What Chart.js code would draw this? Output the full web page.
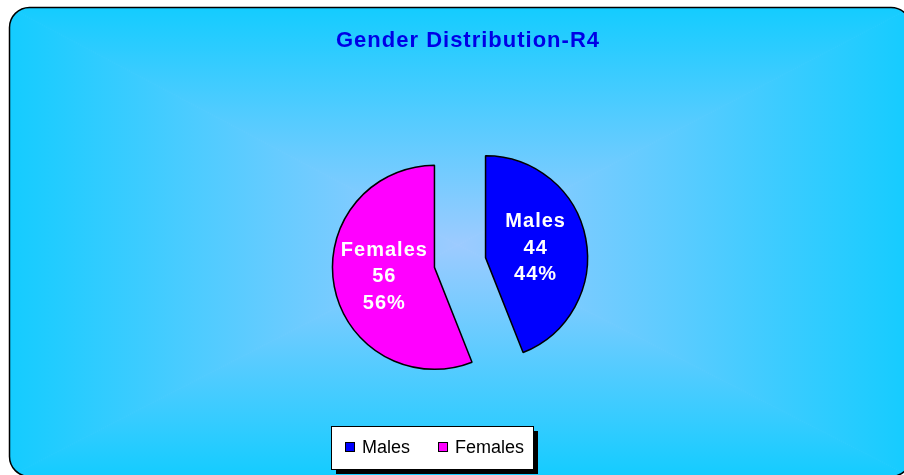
<!DOCTYPE html>
<html>
<head>
<meta charset="utf-8">
<script src="https://cdn.jsdelivr.net/npm/chart.js@4/dist/chart.umd.min.js"></script>
<style>
  body { margin: 0; padding: 0; background: #fff; }
  canvas { display: block; }
</style>
</head>
<body>
<canvas id="myChart" width="904" height="475"></canvas>
<script>
// Datos del grafico
const chartTitle = "Gender Distribution-R4";
const categories = ["Males", "Females"];
const counts = [44, 56];
const sliceColors = ["#0000FF", "#FF00FF"];

const FONT = "'Liberation Sans', Arial, sans-serif";
const EXPLODE = 26; // separacion de los sectores

// fondo con degradado rectangular desde el centro
const backdropPlugin = {
  id: "backdropPlugin",
  beforeDraw: (chart) => {
    const ctx = chart.ctx;
    const W = chart.width;
    const H = chart.height;
    ctx.save();
    ctx.fillStyle = "#fff";
    ctx.fillRect(0, 0, W, H);

    const x0 = 9.5, y0 = 7.5, x1 = 911, y1 = 476.5, rad = 20;
    const cx = 458, cy = 245;
    const inner = "#9dcbff";
    const outer = "#14ccff";

    ctx.beginPath();
    ctx.roundRect(x0, y0, x1 - x0, y1 - y0, rad);
    ctx.save();
    ctx.clip();

    const tri = (ax, ay, bx, by, gx0, gy0) => {
      const g = ctx.createLinearGradient(cx, cy, gx0, gy0);
      g.addColorStop(0, inner);
      g.addColorStop(1, outer);
      ctx.fillStyle = g;
      ctx.beginPath();
      ctx.moveTo(ax, ay);
      ctx.lineTo(bx, by);
      ctx.lineTo(cx, cy);
      ctx.closePath();
      ctx.fill();
      ctx.strokeStyle = g;
      ctx.lineWidth = 1;
      ctx.stroke();
    };
    tri(x0, y0, x1, y0, cx, y0);
    tri(x1, y0, x1, y1, x1, cy);
    tri(x1, y1, x0, y1, cx, y1);
    tri(x0, y1, x0, y0, x0, cy);
    ctx.restore();

    ctx.beginPath();
    ctx.roundRect(x0, y0, x1 - x0, y1 - y0, rad);
    ctx.strokeStyle = "#000";
    ctx.lineWidth = 1.5;
    ctx.stroke();

    // titulo
    ctx.font = "bold 22px " + FONT;
    ctx.letterSpacing = "1px";
    ctx.fillStyle = "#0000E6";
    ctx.textAlign = "center";
    ctx.textBaseline = "middle";
    ctx.fillText(chartTitle, 468, 41);

    // leyenda con sombra
    const lx = 331, ly = 426, lw = 202, lh = 43;
    ctx.fillStyle = "#000";
    ctx.fillRect(lx + 5, ly + 5, lw, lh);
    ctx.fillStyle = "#fff";
    ctx.fillRect(lx, ly, lw, lh);
    ctx.strokeStyle = "#000";
    ctx.lineWidth = 1;
    ctx.strokeRect(lx + 0.5, ly + 0.5, lw, lh);

    ctx.font = "18px " + FONT;
    ctx.letterSpacing = "0px";
    ctx.textAlign = "left";
    let ix = 345;
    categories.forEach((cat, i) => {
      ctx.fillStyle = sliceColors[i];
      ctx.fillRect(ix, 442, 10, 10);
      ctx.strokeStyle = "#000";
      ctx.strokeRect(ix + 0.5, 442.5, 9, 9);
      ctx.fillStyle = "#000";
      ctx.fillText(cat, ix + 17, 448);
      ix += 17 + ctx.measureText(cat).width + 28;
    });
    ctx.restore();
  },
};

// separa los sectores sin agrandar el radio
const explodePlugin = {
  id: "explodePlugin",
  afterDatasetUpdate: (chart, args) => {
    args.meta.data.forEach((arc) => {
      const mid = (arc.startAngle + arc.endAngle) / 2;
      arc.x += Math.cos(mid) * EXPLODE;
      arc.y += Math.sin(mid) * EXPLODE;
    });
  },
};

// etiquetas dentro de cada sector
const sliceLabelsPlugin = {
  id: "sliceLabelsPlugin",
  afterDatasetsDraw: (chart) => {
    const ctx = chart.ctx;
    const meta = chart.getDatasetMeta(0);
    const total = counts.reduce((a, b) => a + b, 0);
    ctx.save();
    ctx.font = "bold 20px " + FONT;
    ctx.letterSpacing = "1px";
    ctx.fillStyle = "#fff";
    ctx.textAlign = "center";
    ctx.textBaseline = "middle";
    meta.data.forEach((arc, i) => {
      const mid = (arc.startAngle + arc.endAngle) / 2;
      const dist = arc.outerRadius * 0.5;
      const tx = arc.x + Math.cos(mid) * dist;
      const ty = arc.y + Math.sin(mid) * dist;
      const pct = Math.round((counts[i] / total) * 100) + "%";
      ctx.fillText(categories[i], tx, ty - 26.5);
      ctx.fillText(String(counts[i]), tx, ty);
      ctx.fillText(pct, tx, ty + 26.5);
    });
    ctx.restore();
  },
};

const data = {
  labels: categories,
  datasets: [
    {
      data: counts,
      backgroundColor: sliceColors,
      borderColor: "#000",
      borderWidth: 1.5,
      offset: 0,
      hoverOffset: 0,
    },
  ],
};

const config = {
  type: "pie",
  data: data,
  options: {
    responsive: false,
    animation: false,
    radius: 102,
    layout: {
      padding: { left: 300, right: 284, top: 140, bottom: 90 },
    },
    plugins: {
      legend: { display: false },
      title: { display: false },
      tooltip: { enabled: false },
    },
    events: [],
  },
  plugins: [backdropPlugin, explodePlugin, sliceLabelsPlugin],
};

const myChart = new Chart(document.getElementById("myChart").getContext("2d"), config);
</script>
</body>
</html>
